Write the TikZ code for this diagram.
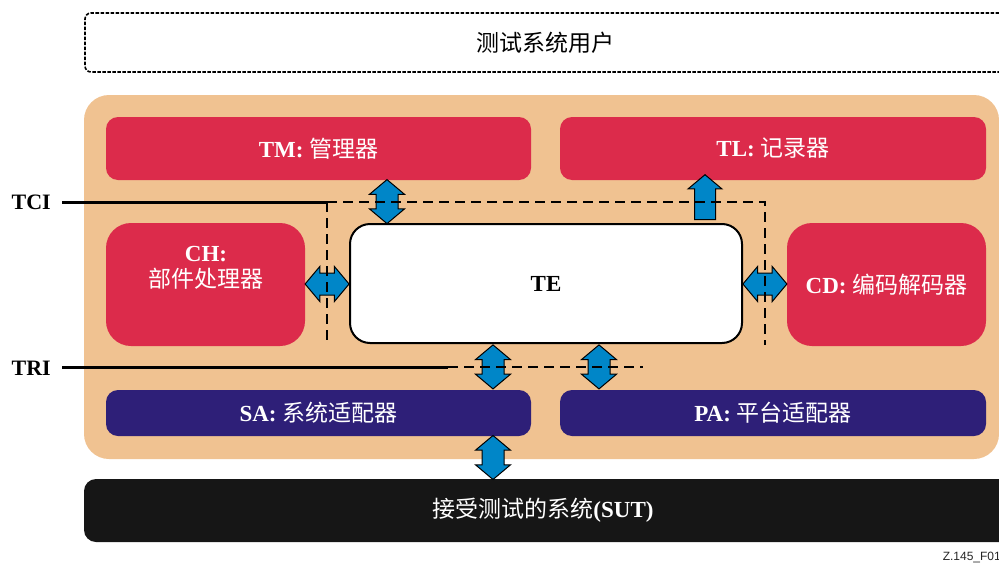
\documentclass[tikz,border=0pt]{standalone}
\usepackage{fontspec}
\setmainfont{Liberation Serif}
\newfontfamily\cjk{Noto Sans CJK SC}
\newfontfamily\figfont{Liberation Sans}
\usetikzlibrary{shapes.arrows,calc}

\definecolor{tsorange}{HTML}{F0C291}
\definecolor{tsred}{HTML}{DC2B4B}
\definecolor{tsnavy}{HTML}{2E1F78}
\definecolor{tsblue}{HTML}{0086C8}
\definecolor{tsblack}{HTML}{161616}

\newcommand\boxlabel[2]{{\bfseries #1} {\cjk #2}}

\tikzset{
    tsbox/.style={rounded corners=12pt, inner sep=0pt, text=white,
        font=\fontsize{23}{26}\selectfont},
    redbox/.style={tsbox, fill=tsred},
    navybox/.style={tsbox, fill=tsnavy},
    fatarrow/.style={double arrow, draw=black, line width=1pt, fill=tsblue,
        inner xsep=0pt, inner ysep=10.5pt, minimum height=44,
        double arrow head extend=6.5, double arrow head indent=0pt,
        double arrow tip angle=100},
    onearrow/.style={single arrow, draw=black, line width=1pt, fill=tsblue,
        inner xsep=0pt, inner ysep=10pt, minimum height=45,
        single arrow head extend=6.5, single arrow head indent=0pt,
        single arrow tip angle=100},
    iflabel/.style={inner sep=0pt, font=\bfseries\fontsize{22}{26}\selectfont},
    ifline/.style={line width=3pt},
    ifdash/.style={line width=2pt, dash pattern=on 10pt off 6pt},
}

\begin{document}
\begin{tikzpicture}[x=1pt, y=-1pt]
    \useasboundingbox (0,0) rectangle (999,565);

    % test system user
    \node[draw, line width=1.6pt, dash pattern=on 3.5pt off 1.5pt, rounded corners=6pt,
        minimum width=920, minimum height=59, inner sep=0pt,
        font=\cjk\fontsize{23}{26}\selectfont] (user) at (545,42.5) {测试系统用户};

    % test system
    \fill[tsorange, rounded corners=25pt] (84,95) rectangle (999,459);

    \node[redbox, minimum width=425, minimum height=63] (tm) at (318.5,148.5) {\boxlabel{TM:}{管理器}};
    \node[redbox, minimum width=426, minimum height=63] (tl) at (773,148.5) {\boxlabel{TL:}{记录器}};
    \node[redbox, rounded corners=25pt, minimum width=199, minimum height=123] (ch) at (205.5,284.5) {};
    \node[tsbox, text=white, align=center] (chtext) at (206,268) {{\bfseries CH:}\\{\cjk 部件处理器}};
    \node[draw=black, line width=2pt, fill=white, rounded corners=20pt, inner sep=0pt,
        minimum width=392, minimum height=119,
        font=\bfseries\fontsize{23}{26}\selectfont] (te) at (546,283.5) {TE};
    \node[redbox, rounded corners=25pt, minimum width=199, minimum height=123] (cd) at (886.5,284.5) {\boxlabel{CD:}{编码解码器}};
    \node[navybox, minimum width=425, minimum height=46] (sa) at (318.5,413) {\boxlabel{SA:}{系统适配器}};
    \node[navybox, minimum width=426, minimum height=46] (pa) at (773,413) {\boxlabel{PA:}{平台适配器}};

    % system under test
    \node[tsbox, fill=tsblack, minimum width=946, minimum height=63] (sut) at (557,510.5) {};
    \node[tsbox] (suttext) at (543,510.5) {{\cjk 接受测试的系统}{\bfseries (SUT)}};

    % interfaces between the entities
    \foreach \ax/\from/\to/\nm in {387/tm/te/tmte, 493/te/sa/tesa, 599/te/pa/tepa, 493/sa/sut/sasut} {
        \node[fatarrow, rotate=90] (\nm) at ($(\ax,0 |- \from.south)!.5!(\ax,0 |- \to.north)$) {};
    }
    \node[fatarrow] (chte) at ($(ch.east)!.5!(te.west)$) {};
    \node[fatarrow] (tecd) at ($(te.east)!.5!(cd.west)$) {};
    \node[onearrow, rotate=90] (tetl) at ($(705,0 |- te.north)!.5!(705,0 |- tl.south)$) {};

    % TCI and TRI
    \node[iflabel, anchor=east] (tci) at (51,202) {TCI};
    \node[iflabel, anchor=east] (tri) at (51,368) {TRI};
    \coordinate (tcinw) at (327,202);
    \coordinate (tcine) at (765,202);
    \coordinate (tcisw) at (327,345);
    \coordinate (tcise) at (765,345);
    \coordinate (trimid) at (448,367);
    \coordinate (triend) at (643,367);
    \draw[ifline] ([xshift=11pt]tci.east) -- (tcinw);
    \draw[ifdash] (tcinw) -- (tcine) -- (tcise);
    \draw[ifdash] (tcinw) -- (tcisw);
    \draw[ifline] ([xshift=11pt]tri.east |- trimid) -- (trimid);
    \draw[ifdash] (trimid) -- (triend);

    \node[anchor=east, inner sep=0pt, text=black!85, font=\figfont\fontsize{12}{14}\selectfont] (figid) at (1001,557) {Z.145\_F01};
\end{tikzpicture}
\end{document}
